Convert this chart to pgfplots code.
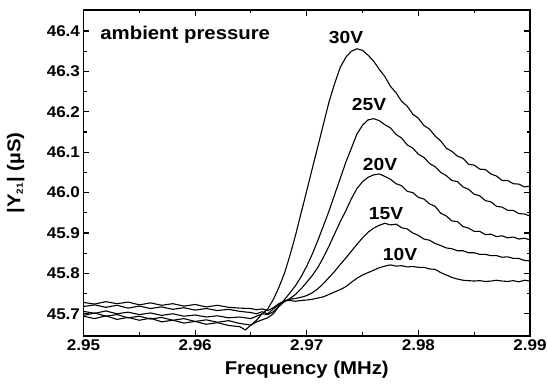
\documentclass[border=0pt]{standalone}
\usepackage{fontspec}
\setmainfont{Liberation Sans}[FakeStretch=1.1]
\usepackage{pgfplots}
\pgfplotsset{compat=1.18}

\begin{document}
\begin{tikzpicture}[x=1pt,y=1pt]
\begin{axis}[
  name=ax,
  scale only axis,
  width=446.5pt, height=326pt,
  xmin=2.95, xmax=2.99,
  ymin=45.645, ymax=46.452,
  xtick={2.95,2.96,...,2.99},
  ytick={45.7,45.8,...,46.41},
  minor x tick num=1,
  minor y tick num=1,
  tick align=inside,
  major tick length=6pt,
  minor tick length=3.5pt,
  axis line style={line width=1.4pt},
  every tick/.style={line width=1.1pt, black},
  xticklabel style={/pgf/number format/.cd, fixed, fixed zerofill, precision=2},
  yticklabel style={/pgf/number format/.cd, fixed, fixed zerofill, precision=1},
  /pgf/number format/assume math mode=true,
  tick label style={font=\fontsize{15.5}{17}\selectfont\bfseries},
  label style={font=\fontsize{18.5}{20}\selectfont\bfseries},
  xlabel={Frequency (MHz)},
  ylabel={|Y\textsubscript{\fontsize{9}{10}\selectfont 21}| (µS)},
  xlabel style={at={(axis description cs:0.5,-0.104)}, anchor=center},
  ylabel style={at={(axis description cs:-0.152,0.5)}, anchor=center},
  scaled x ticks=false,
  scaled y ticks=false,
  cycle list={black\\},
  every axis plot/.append style={line width=1.1pt, no markers},
  clip=true,
]
% 30V
\addplot coordinates {
(2.9500,45.694) (2.9510,45.688) (2.9520,45.695) (2.9530,45.686) (2.9540,45.691)
(2.9550,45.684) (2.9560,45.689) (2.9570,45.680) (2.9580,45.684) (2.9590,45.677)
(2.9600,45.681) (2.9610,45.674) (2.9620,45.678) (2.9630,45.671) (2.9640,45.668)
(2.9645,45.660) (2.9650,45.672) (2.9655,45.684) (2.9660,45.700) (2.9665,45.712)
(2.9670,45.735) (2.9675,45.765) (2.9680,45.800) (2.9685,45.845) (2.9690,45.895)
(2.9695,45.950) (2.9700,46.005) (2.9705,46.060) (2.9710,46.115) (2.9715,46.170)
(2.9720,46.225) (2.9725,46.270) (2.9730,46.310) (2.9735,46.335) (2.9740,46.350)
(2.9745,46.356) (2.9750,46.352) (2.9755,46.340) (2.9760,46.325) (2.9765,46.305)
(2.9770,46.287) (2.9775,46.263) (2.9780,46.247) (2.9785,46.226) (2.9790,46.214)
(2.9795,46.194) (2.9800,46.184) (2.9805,46.166) (2.9810,46.157) (2.9815,46.140)
(2.9820,46.128) (2.9825,46.110) (2.9830,46.102) (2.9835,46.090) (2.9840,46.085)
(2.9845,46.070) (2.9850,46.068) (2.9855,46.058) (2.9860,46.057) (2.9865,46.046)
(2.9870,46.041) (2.9875,46.030) (2.9880,46.030) (2.9885,46.022) (2.9890,46.021)
(2.9895,46.014) (2.9900,46.016)
};
% 25V
\addplot coordinates {
(2.9500,45.696) (2.9510,45.702) (2.9520,45.694) (2.9530,45.698) (2.9540,45.690)
(2.9550,45.694) (2.9560,45.687) (2.9570,45.691) (2.9580,45.684) (2.9590,45.688)
(2.9600,45.681) (2.9610,45.685) (2.9620,45.679) (2.9630,45.683) (2.9640,45.676)
(2.9650,45.672) (2.9655,45.680) (2.9660,45.685) (2.9665,45.690) (2.9670,45.700)
(2.9675,45.718) (2.9680,45.735) (2.9685,45.752) (2.9690,45.770) (2.9695,45.792)
(2.9700,45.818) (2.9705,45.848) (2.9710,45.882) (2.9715,45.918) (2.9720,45.955)
(2.9725,45.995) (2.9730,46.035) (2.9735,46.075) (2.9740,46.110) (2.9745,46.145)
(2.9750,46.167) (2.9755,46.180) (2.9760,46.183) (2.9765,46.178) (2.9770,46.168)
(2.9775,46.160) (2.9780,46.144) (2.9785,46.135) (2.9790,46.118) (2.9795,46.110)
(2.9800,46.095) (2.9805,46.087) (2.9810,46.072) (2.9815,46.064) (2.9820,46.050)
(2.9825,46.042) (2.9830,46.030) (2.9835,46.027) (2.9840,46.014) (2.9845,46.008)
(2.9850,45.996) (2.9855,45.992) (2.9860,45.980) (2.9865,45.977) (2.9870,45.966)
(2.9875,45.964) (2.9880,45.956) (2.9885,45.956) (2.9890,45.948) (2.9895,45.947)
(2.9900,45.942)
};
% 20V
\addplot coordinates {
(2.9500,45.706) (2.9510,45.701) (2.9520,45.707) (2.9530,45.700) (2.9540,45.704)
(2.9550,45.698) (2.9560,45.702) (2.9570,45.696) (2.9580,45.700) (2.9590,45.694)
(2.9600,45.697) (2.9610,45.692) (2.9620,45.695) (2.9630,45.690) (2.9640,45.692)
(2.9650,45.688) (2.9655,45.694) (2.9660,45.700) (2.9665,45.698) (2.9670,45.705)
(2.9675,45.718) (2.9680,45.730) (2.9685,45.738) (2.9690,45.748) (2.9695,45.762)
(2.9700,45.778) (2.9705,45.795) (2.9710,45.815) (2.9715,45.840) (2.9720,45.868)
(2.9725,45.898) (2.9730,45.928) (2.9735,45.955) (2.9740,45.985) (2.9745,46.010)
(2.9750,46.027) (2.9755,46.038) (2.9760,46.044) (2.9765,46.046) (2.9770,46.040)
(2.9775,46.033) (2.9780,46.022) (2.9785,46.017) (2.9790,46.003) (2.9795,46.000)
(2.9800,45.988) (2.9805,45.984) (2.9810,45.972) (2.9815,45.966) (2.9820,45.949)
(2.9825,45.942) (2.9830,45.930) (2.9835,45.928) (2.9840,45.916) (2.9845,45.912)
(2.9850,45.904) (2.9855,45.904) (2.9860,45.896) (2.9865,45.897) (2.9870,45.891)
(2.9875,45.893) (2.9880,45.888) (2.9885,45.890) (2.9890,45.885) (2.9895,45.887)
(2.9900,45.883)
};
% 15V
\addplot coordinates {
(2.9500,45.718) (2.9510,45.722) (2.9520,45.716) (2.9530,45.721) (2.9540,45.714)
(2.9550,45.719) (2.9560,45.713) (2.9570,45.717) (2.9580,45.711) (2.9590,45.715)
(2.9600,45.709) (2.9610,45.713) (2.9620,45.708) (2.9630,45.711) (2.9640,45.706)
(2.9650,45.703) (2.9655,45.700) (2.9660,45.705) (2.9665,45.700) (2.9670,45.712)
(2.9675,45.722) (2.9680,45.732) (2.9685,45.736) (2.9690,45.738) (2.9695,45.741)
(2.9700,45.745) (2.9705,45.752) (2.9710,45.762) (2.9715,45.775) (2.9720,45.790)
(2.9725,45.805) (2.9730,45.822) (2.9735,45.838) (2.9740,45.855) (2.9745,45.872)
(2.9750,45.888) (2.9755,45.902) (2.9760,45.912) (2.9765,45.919) (2.9770,45.924)
(2.9775,45.920) (2.9780,45.922) (2.9785,45.913) (2.9790,45.910) (2.9795,45.900)
(2.9800,45.894) (2.9805,45.885) (2.9810,45.882) (2.9815,45.874) (2.9820,45.869)
(2.9825,45.863) (2.9830,45.861) (2.9835,45.856) (2.9840,45.856) (2.9845,45.851)
(2.9850,45.851) (2.9855,45.847) (2.9860,45.847) (2.9865,45.844) (2.9870,45.844)
(2.9875,45.840) (2.9880,45.841) (2.9885,45.837) (2.9890,45.837) (2.9895,45.832)
(2.9900,45.831)
};
% 10V
\addplot coordinates {
(2.9500,45.728) (2.9510,45.724) (2.9520,45.730) (2.9530,45.725) (2.9540,45.729)
(2.9550,45.722) (2.9560,45.727) (2.9570,45.721) (2.9580,45.725) (2.9590,45.719)
(2.9600,45.723) (2.9610,45.717) (2.9620,45.721) (2.9630,45.716) (2.9640,45.714)
(2.9650,45.713) (2.9655,45.710) (2.9660,45.712) (2.9665,45.708) (2.9670,45.715)
(2.9675,45.725) (2.9680,45.732) (2.9685,45.733) (2.9690,45.731) (2.9695,45.733)
(2.9700,45.734) (2.9705,45.736) (2.9710,45.739) (2.9715,45.742) (2.9720,45.748)
(2.9725,45.754) (2.9730,45.760) (2.9735,45.767) (2.9740,45.778) (2.9745,45.788)
(2.9750,45.796) (2.9755,45.802) (2.9760,45.808) (2.9765,45.814) (2.9770,45.818)
(2.9775,45.821) (2.9780,45.818) (2.9785,45.819) (2.9790,45.816) (2.9795,45.817)
(2.9800,45.815) (2.9805,45.815) (2.9810,45.811) (2.9815,45.810) (2.9820,45.802)
(2.9825,45.796) (2.9830,45.790) (2.9835,45.786) (2.9840,45.783) (2.9845,45.782)
(2.9850,45.781) (2.9855,45.782) (2.9860,45.780) (2.9865,45.781) (2.9870,45.783)
(2.9875,45.781) (2.9880,45.780) (2.9885,45.782) (2.9890,45.779) (2.9895,45.783)
(2.9900,45.781)
};
\node[anchor=west, font=\fontsize{18.5}{20}\selectfont\bfseries] at (axis cs:2.9512,46.392) {ambient pressure};
\node[font=\fontsize{17.5}{19}\selectfont\bfseries] at (axis cs:2.97352,46.385) {30V};
\node[font=\fontsize{17.5}{19}\selectfont\bfseries] at (axis cs:2.97558,46.218) {25V};
\node[font=\fontsize{17.5}{19}\selectfont\bfseries] at (axis cs:2.97657,46.070) {20V};
\node[font=\fontsize{17.5}{19}\selectfont\bfseries] at (axis cs:2.97711,45.947) {15V};
\node[font=\fontsize{17.5}{19}\selectfont\bfseries] at (axis cs:2.97836,45.848) {10V};
\end{axis}
\pgfresetboundingbox
\path[use as bounding box] ([shift={(-83.5pt,-55pt)}]ax.south west) rectangle ([shift={(17pt,10pt)}]ax.north east);
\end{tikzpicture}
\end{document}
